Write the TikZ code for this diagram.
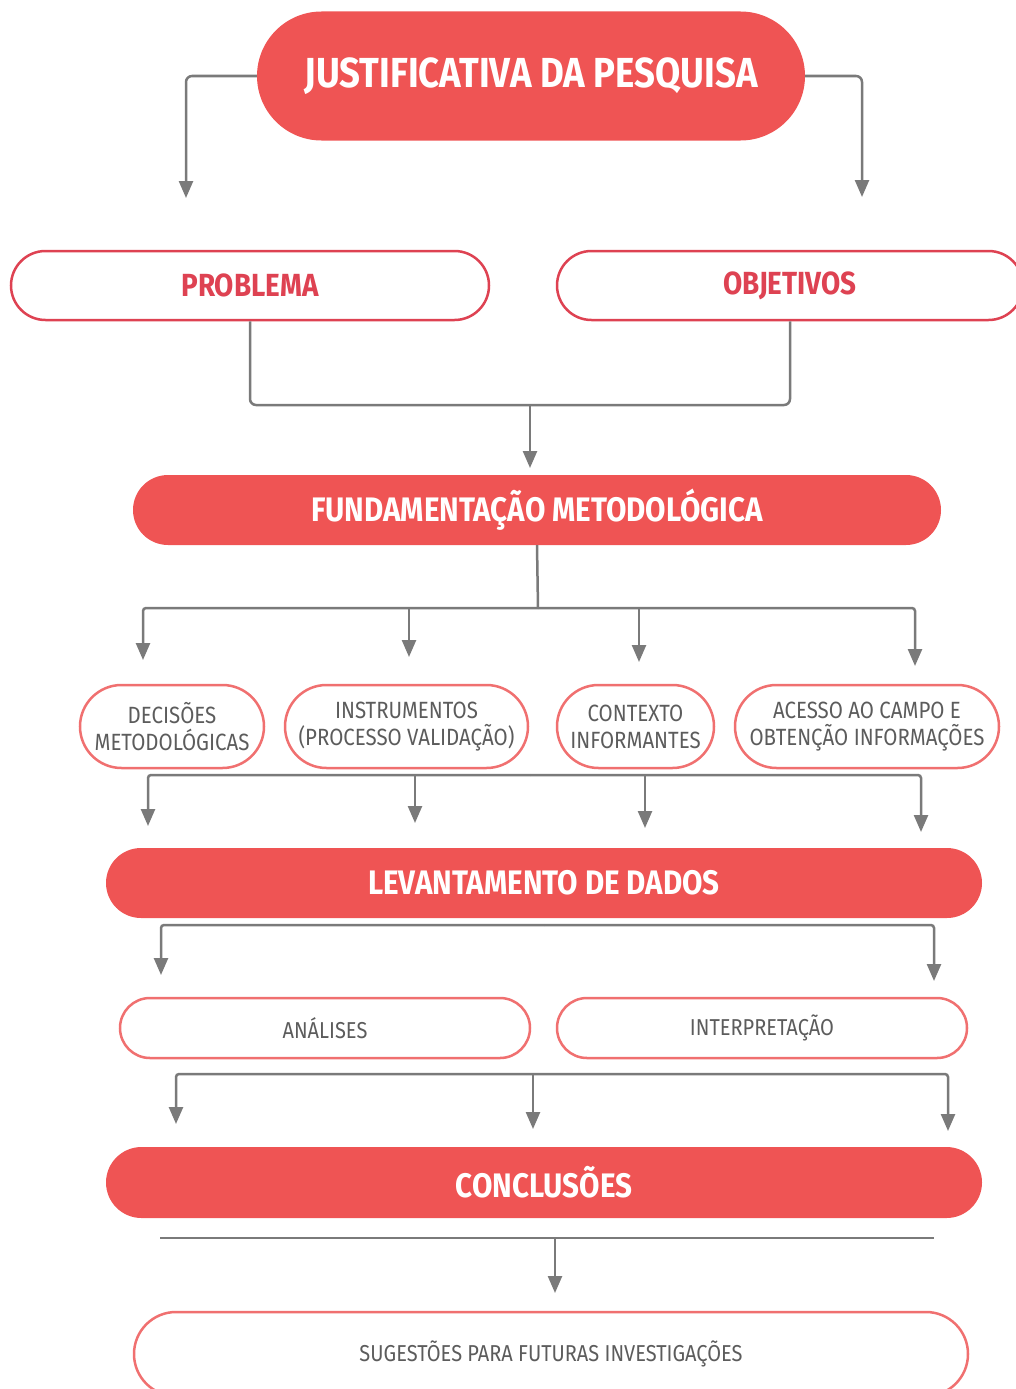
\documentclass[tikz,border=0pt]{standalone}
\usepackage{fontspec}
\setmainfont{Fira Sans}[FakeStretch=0.87]
\usetikzlibrary{arrows.meta}
\usetikzlibrary{shapes.misc}
\definecolor{fundo}{RGB}{239,84,84}
\definecolor{borda}{RGB}{222,66,82}
\definecolor{bordaclara}{RGB}{240,112,112}
\definecolor{linha}{RGB}{122,122,122}
\definecolor{texto}{RGB}{92,92,92}

\begin{document}
\begin{tikzpicture}[x=1pt, y=-1pt,
  cheio/.style={rounded rectangle, fill=fundo, text=white, inner sep=0pt,
    font=\bfseries\fontsize{34}{40}\selectfont},
  vazio/.style={rounded rectangle, draw=borda, line width=2.5pt, fill=white, inner sep=0pt,
    text=borda, font=\bfseries\fontsize{32}{38}\selectfont},
  leve/.style={rounded rectangle, draw=bordaclara, line width=2.5pt, fill=white, inner sep=0pt,
    text=texto, align=center, font=\fontsize{23.5}{27}\selectfont},
  liga/.style={draw=linha, line width=2.5pt},
  seta/.style={liga, -{Triangle[length=17pt, width=14pt]}}]
\useasboundingbox (0,0) rectangle (1016,1389);

\node[cheio, minimum width=548pt, minimum height=129pt, font=\bfseries\fontsize{42}{48}\selectfont]
  (just) at (531,76) {JUSTIFICATIVA DA PESQUISA};
\node[vazio, minimum width=478pt, minimum height=69pt] (prob) at (250,285.5) {PROBLEMA};
\node[vazio, minimum width=466pt, minimum height=69pt] (obj) at (790,285.5) {OBJETIVOS};
\node[cheio, minimum width=808pt, minimum height=70pt] (fund) at (537,510) {FUNDAMENTAÇÃO METODOLÓGICA};

\node[leve, minimum width=184pt, minimum height=83pt] (dec) at (172,726.5) {DECISÕES\\METODOLÓGICAS};
\node[leve, minimum width=243pt, minimum height=83pt] (inst) at (406.5,726.5) {INSTRUMENTOS\\(PROCESSO VALIDAÇÃO)};
\node[leve, minimum width=157pt, minimum height=83pt] (cont) at (635.5,726.5) {CONTEXTO\\INFORMANTES};
\node[leve, minimum width=264pt, minimum height=83pt] (aces) at (867,726.5) {ACESSO AO CAMPO E\\OBTENÇÃO INFORMAÇÕES};

\node[cheio, minimum width=876pt, minimum height=70pt] (lev) at (544,883) {LEVANTAMENTO DE DADOS};
\node[leve, minimum width=410pt, minimum height=60pt, font=\fontsize{23}{27}\selectfont] (ana) at (325,1028) {ANÁLISES};
\node[leve, minimum width=410pt, minimum height=60pt, font=\fontsize{23}{27}\selectfont] (interp) at (762,1028) {INTERPRETAÇÃO};
\node[cheio, minimum width=876pt, minimum height=71pt] (conc) at (544,1182.5) {CONCLUSÕES};
\node[leve, minimum width=834pt, minimum height=84pt, font=\fontsize{23}{27}\selectfont] (sug) at (551,1354) {SUGESTÕES PARA FUTURAS INVESTIGAÇÕES};

\draw[seta, rounded corners=6pt] (just.west) -| (186,198);
\draw[seta, rounded corners=6pt] (just.east) -| (862,197);

\coordinate (pj) at (530,405);
\draw[liga, rounded corners=6pt] (prob.south) |- (pj) -| (obj.south);
\draw[seta] (pj) -- (530,468);

\coordinate (fb) at (538,608);
\draw[liga] (fund.south) -- (fb);
\draw[seta, rounded corners=3pt] (fb) -| (143,660);
\draw[seta, rounded corners=3pt] (fb) -| (915,666);
\foreach \x/\y in {409/657, 639/662}
  \draw[seta] (\x,608) -- (\x,\y);

\coordinate (mb) at (530,775);
\draw[seta, rounded corners=3pt] (mb) -| (148,826);
\draw[seta, rounded corners=3pt] (mb) -| (921,832);
\foreach \x/\y in {415/823, 645/828}
  \draw[seta] (\x,775) -- (\x,\y);

\coordinate (lb) at (544,925);
\draw[seta, rounded corners=3pt] (lb) -| (161,975);
\draw[seta, rounded corners=3pt] (lb) -| (934,981);

\coordinate (ab) at (533,1074);
\draw[seta, rounded corners=3pt] (ab) -| (176,1124);
\draw[seta, rounded corners=3pt] (ab) -| (948,1131);
\draw[seta] (ab) -- (533,1129);

\coordinate (cb) at (555,1238);
\draw[liga] (160,1238) -- (934,1238);
\draw[seta] (cb) -- (555,1293);
\end{tikzpicture}
\end{document}
